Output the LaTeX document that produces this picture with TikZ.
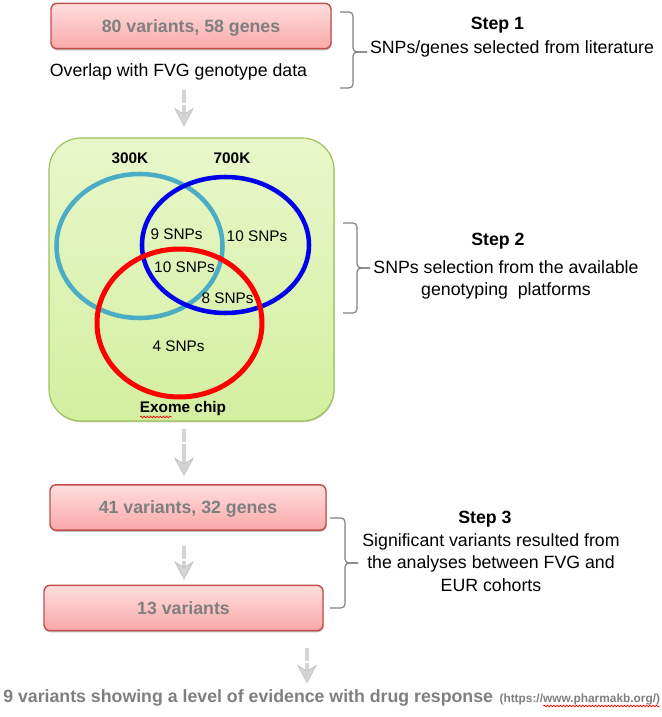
\documentclass[tikz,border=0pt]{standalone}
\usepackage{fontspec}
\setmainfont{Liberation Sans}
\usetikzlibrary{arrows.meta,calc,shadows,decorations.pathmorphing}

\definecolor{boxtext}{RGB}{127,127,127}
\definecolor{boxedge}{RGB}{192,80,77}
\definecolor{boxtop}{RGB}{255,222,222}
\definecolor{boxbottom}{RGB}{250,168,168}
\definecolor{chipedge}{RGB}{155,195,90}
\definecolor{chiptop}{RGB}{232,247,202}
\definecolor{chipbottom}{RGB}{211,239,160}
\definecolor{ringcyan}{RGB}{75,172,198}
\definecolor{ringblue}{RGB}{0,0,235}
\definecolor{ringred}{RGB}{255,0,0}
\definecolor{arrowgray}{RGB}{212,212,212}
\definecolor{arrowedge}{RGB}{196,196,196}
\definecolor{bracegray}{RGB}{128,128,128}

\newcommand{\mainsize}{\fontsize{13.3}{17}\selectfont}
\newcommand{\vennsize}{\fontsize{11.5}{14}\selectfont}

\tikzset{
  pinkbox/.style={draw=boxedge, line width=1.1pt, rounded corners=4.5pt,
    top color=boxtop, bottom color=boxbottom, minimum height=34pt,
    inner sep=0pt, text=boxtext, font=\mainsize\bfseries, text depth=0pt,
    drop shadow={shadow xshift=0.4pt, shadow yshift=-1.2pt, opacity=0.25, fill=black}},
  chipbox/.style={draw=chipedge, line width=0.9pt, rounded corners=24pt,
    top color=chiptop, bottom color=chipbottom,
    minimum width=213.75pt, minimum height=212.25pt, inner sep=0pt,
    drop shadow={shadow xshift=0.5pt, shadow yshift=-1pt, opacity=0.2, fill=black}},
  ring/.style={draw=#1, line width=3.4pt},
  flowarrow/.style={draw=arrowgray, line width=3.4pt,
    dash pattern=on 9.75pt off 1.5pt on 80pt,
    -{Stealth[length=14pt, width=15pt, inset=4.5pt, line width=0.5pt, color=arrowedge, fill=arrowgray]}},
  bracket/.style={draw=bracegray, line width=0.9pt, rounded corners=3pt},
  squiggle/.style={draw=ringred, line width=0.5pt, decorate,
    decoration={snake, amplitude=0.7pt, segment length=2.4pt}},
  plain/.style={inner sep=0.75pt, font=\mainsize},
  venntxt/.style={inner sep=0.75pt, font=\vennsize, anchor=base}
}

\begin{document}
\begin{tikzpicture}[x=0.75pt,y=0.75pt,yscale=-1,xscale=1]
\useasboundingbox (0,0) rectangle (661,717);
%Shape: Rounded Rect [80 variants]
\draw (191,26) node (box1) [pinkbox, minimum width=210pt] {80 variants, 58 genes};
% Text Node
\draw (178.5,77) node (overlap) [plain, anchor=base] {Overlap with FVG genotype data};
%Shape: Rounded Rect [exome chip]
\draw (191.5,279.5) node (chip) [chipbox] {};
%Shape: Ellipse [300K]
\draw [ring=ringcyan] (139.5,246) ellipse (83 and 72);
%Shape: Ellipse [700K]
\draw [ring=ringblue] (225.5,245) ellipse (83.5 and 68);
%Shape: Ellipse [exome]
\draw [ring=ringred, line width=3.75pt] (179.5,323) ellipse (82.5 and 74);
% Text Node
\draw (130,163) node (lab300) [venntxt, font=\vennsize\bfseries] {300K};
\draw (232,163) node (lab700) [venntxt, font=\vennsize\bfseries] {700K};
\draw (176.5,239) node (nine) [venntxt] {9 SNPs};
\draw (257,241) node (tenright) [venntxt] {10 SNPs};
\draw (184.5,272) node (tenmid) [venntxt] {10 SNPs};
\draw (227.5,303) node (eight) [venntxt] {8 SNPs};
\draw (178.5,351) node (four) [venntxt] {4 SNPs};
\draw (183,412) node (exome) [venntxt, font=\vennsize\bfseries] {Exome chip};
\draw [squiggle] (140,417) -- (172,417);
%Shape: Rounded Rect [41 variants]
\draw (188,507.5) node (box2) [pinkbox, minimum width=207pt] {41 variants, 32 genes};
%Shape: Rounded Rect [13 variants]
\draw (183.5,608) node (box3) [pinkbox, minimum width=209.25pt] {13 variants};
% Text Node
\draw (2,702) node (final) [anchor=base west, inner sep=0.75pt, text=boxtext,
  font=\mainsize\bfseries] {9 variants showing a level of evidence with drug response};
\draw ($(final.base east)+(4,0)$) node (url) [anchor=base west, inner sep=0.75pt, text=boxtext,
  font=\fontsize{8.9}{11}\selectfont\bfseries] {(https://www.pharmakb.org/)};
\draw [squiggle] ($(url.base west)+(45,4)$) -- ($(url.base east)+(-2,4)$);
%Arrows
\draw [flowarrow, shorten <=6pt, shorten >=8.25pt] ($(overlap.south -| chip.north)+(-7.5,0)$) -- ($(chip.north)+(-7.5,0)$);
\draw [flowarrow, shorten <=5.25pt, shorten >=6pt] ($(chip.south)+(-7.5,0)$) -- ($(box2.north -| chip.south)+(-7.5,0)$);
\draw [flowarrow, shorten <=11.25pt, shorten >=3.75pt] ($(box2.south -| chip.south)+(-7.5,0)$) -- ($(box3.north -| chip.south)+(-7.5,0)$);
\draw [flowarrow, shorten <=12.75pt, shorten >=3.4pt] ($(box3.south)+(123.5,0)$) -- ($(final.north -| box3.south)+(123.5,0)$);
%Brackets
\draw [bracket] (340,12) -| (353,52) -- (367,52);
\draw [bracket] (367,52) -- (353,52) |- (340,88);
\draw [bracket] (343,223) -| (357,268) -- (370,268);
\draw [bracket] (370,268) -- (357,268) |- (343,313);
\draw [bracket] (330,518) -| (345,563) -- (358,563);
\draw [bracket] (358,563) -- (345,563) |- (330,608);
% Text Node
\draw (497.5,30) node (step1) [plain, anchor=base, font=\mainsize\bfseries] {Step 1};
\draw (512,39) node (step1txt) [plain, anchor=north, align=center] {SNPs/genes selected from literature};
\draw (498,245) node (step2) [plain, anchor=base, font=\mainsize\bfseries] {Step 2};
\draw (506,259) node (step2txt) [plain, anchor=north, align=center] {SNPs selection from the available\\genotyping\ \ platforms};
\draw (485,523) node (step3) [plain, anchor=base, font=\mainsize\bfseries] {Step 3};
\draw (491,532) node (step3txt) [plain, anchor=north, align=center] {Significant variants resulted from\\the analyses between FVG and\\EUR cohorts};
\end{tikzpicture}
\end{document}
